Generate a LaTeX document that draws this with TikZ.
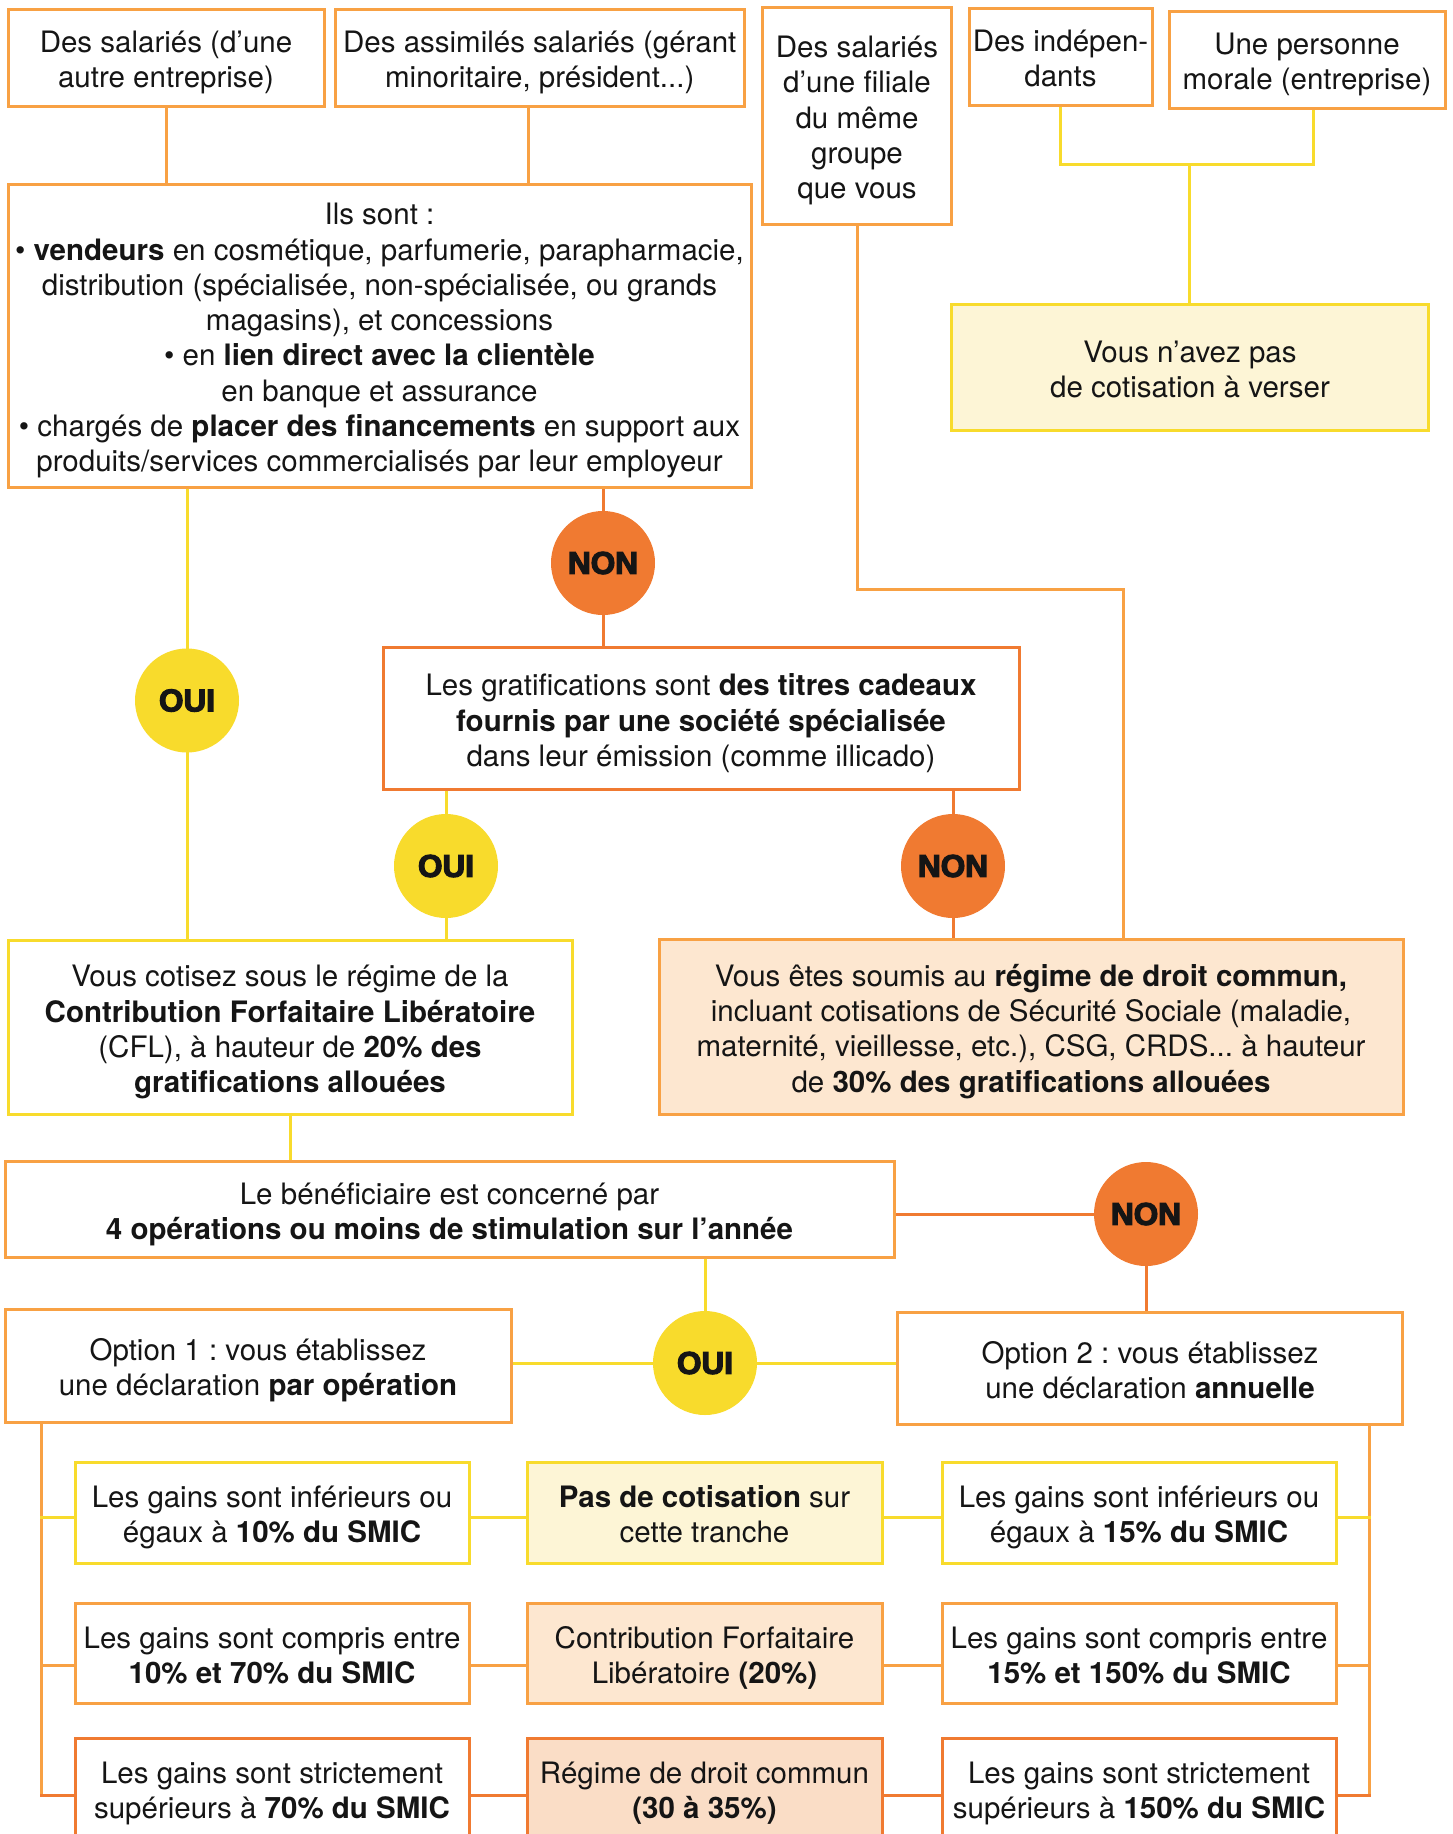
\documentclass[tikz,border=0pt]{standalone}
\usepackage{fontspec}
\setmainfont{TeX Gyre Heros}
\newfontfamily\blk[FakeBold=4]{Liberation Sans Bold}
\usetikzlibrary{backgrounds}
\definecolor{lor}{HTML}{F8A144}
\definecolor{dor}{HTML}{F07A31}
\definecolor{ylw}{HTML}{F8DB2C}
\definecolor{fy}{HTML}{FDF5D6}
\definecolor{fp}{HTML}{FDE7D0}
\definecolor{fpp}{HTML}{FADDC6}
\definecolor{txt}{HTML}{151515}
\newcommand\topstr{\rule{0pt}{32pt}}
\newcommand\botstr{\rule[-6.5pt]{0pt}{0pt}}
\frenchspacing
\tikzset{
  box/.style={draw=lor, line width=3pt, fill=white, align=center, inner sep=0pt, text=txt,
    font=\fontsize{29.5}{35.3}\selectfont},
  sz/.style 2 args={minimum width=#1pt, minimum height=#2pt},
  circ/.style={circle, minimum size=104pt, inner sep=0pt, text=txt, font=\blk\fontsize{31.5}{31.5}\selectfont},
  oui/.style={circ, fill=ylw},
  non/.style={circ, fill=dor},
  ly/.style={draw=ylw, line width=3pt, line cap=rect},
  lo/.style={draw=lor, line width=3pt, line cap=rect},
  ld/.style={draw=dor, line width=3pt, line cap=rect},
}
\begin{document}
\begin{tikzpicture}[x=1pt,y=-1pt]
\useasboundingbox (0,0) rectangle (1452,1834);
\clip (0,0) rectangle (1452,1834);

% top row
\node[box, sz={316}{97}] (b1) at (166,57.5) {\topstr Des salariés (d’une\\autre entreprise)\botstr};
\node[box, sz={408.5}{97}] (b2) at (539.75,57.5) {\topstr Des assimilés salariés (gérant\\minoritaire, président...)\botstr};
\node[box, sz={189}{217}] (fil) at (857,115.5) {\topstr Des salariés\\d’une filiale\\du même\\groupe\\que vous\botstr};
\node[box, sz={183}{97}] (ind) at (1060.5,56.5) {\topstr Des indépen-\\dants\botstr};
\node[box, sz={276}{97}] (mor) at (1307,59.5) {\topstr Une personne\\morale (entreprise)\botstr};
\node[box, draw=ylw, fill=fy, sz={476.5}{126}] (nv) at (1190,367) {\topstr Vous n’avez pas\\de cotisation à verser\botstr};

\node[box, sz={743}{303}] (ils) at (379.5,335.5) {\topstr Ils sont :\\• \textbf{vendeurs} en cosmétique, parfumerie, parapharmacie,\\distribution (spécialisée, non-spécialisée, ou grands\\magasins), et concessions\\• en \textbf{lien direct avec la clientèle}\\en banque et assurance\\• chargés de \textbf{placer des financements} en support aux\\produits/services commercialisés par leur employeur\botstr};

\node[non] (n1) at (603,563) {NON};
\node[oui] (o1) at (187,700.5) {OUI};
\node[box, draw=dor, sz={636}{141.5}] (gr) at (701,718.25) {\topstr Les gratifications sont \textbf{des titres cadeaux}\\\textbf{fournis par une société spécialisée}\\dans leur émission (comme illicado)\botstr};
\node[oui] (o2) at (446,866) {OUI};
\node[non] (n2) at (953,866) {NON};

\node[box, draw=ylw, sz={564}{174}] (cfl) at (290,1027) {\topstr Vous cotisez sous le régime de la\\\textbf{Contribution Forfaitaire Libératoire}\\(CFL), à hauteur de \textbf{20\% des}\\\textbf{gratifications allouées}\botstr};
\node[box, fill=fp, sz={744}{175}] (dc) at (1031,1026.5) {\topstr Vous êtes soumis au \textbf{régime de droit commun,}\\incluant cotisations de Sécurité Sociale (maladie,\\maternité, vieillesse, etc.), CSG, CRDS... à hauteur\\de \textbf{30\% des gratifications allouées}\botstr};

\node[box, sz={889}{96}] (bf) at (449.5,1209) {\topstr Le bénéficiaire est concerné par\\\textbf{4 opérations ou moins de stimulation sur l’année}\botstr};
\node[non] (n3) at (1146,1214) {NON};
\node[oui] (o3) at (705,1363) {OUI};
\node[box, sz={506}{113}] (op1) at (258,1365.5) {\topstr Option 1 : vous établissez\\une déclaration \textbf{par opération}\botstr};
\node[box, sz={505}{112}] (op2) at (1150,1368) {\topstr Option 2 : vous établissez\\une déclaration \textbf{annuelle}\botstr};

% rows
\node[box, draw=ylw, sz={394}{101}] (r1l) at (272,1512.5) {\topstr Les gains sont inférieurs ou\\égaux à \textbf{10\% du SMIC}\botstr};
\node[box, draw=ylw, fill=fy, sz={355}{101}] (r1m) at (704.5,1512.5) {\topstr\textbf{Pas de cotisation} sur\\cette tranche\botstr};
\node[box, draw=ylw, sz={394}{101}] (r1r) at (1139,1512.5) {\topstr Les gains sont inférieurs ou\\égaux à \textbf{15\% du SMIC}\botstr};
\node[box, sz={394}{100}] (r2l) at (272,1653) {\topstr Les gains sont compris entre\\\textbf{10\% et 70\% du SMIC}\botstr};
\node[box, fill=fp, sz={355}{100}] (r2m) at (704.5,1653) {\topstr Contribution Forfaitaire\\Libératoire \textbf{(20\%)}\botstr};
\node[box, sz={394}{100}] (r2r) at (1139,1653) {\topstr Les gains sont compris entre\\\textbf{15\% et 150\% du SMIC}\botstr};
\node[box, draw=dor, sz={394}{100}] (r3l) at (272,1788) {\topstr Les gains sont strictement\\supérieurs à \textbf{70\% du SMIC}\botstr};
\node[box, draw=dor, fill=fpp, sz={355}{100}] (r3m) at (704.5,1788) {\topstr Régime de droit commun\\\textbf{(30 à 35\%)}\botstr};
\node[box, draw=dor, sz={394}{100}] (r3r) at (1139,1788) {\topstr Les gains sont strictement\\supérieurs à \textbf{150\% du SMIC}\botstr};

\coordinate (fk) at (1123,589);
\coordinate (yj) at (1189.6,164);
\coordinate (s1) at (41,1517);
\coordinate (s2) at (41,1665);
\coordinate (s3) at (41,1795);
\coordinate (t1) at (1369,1517);
\coordinate (t2) at (1369,1665);
\coordinate (t3) at (1369,1795);

\begin{pgfonlayer}{background}
\draw[lo] (b1.south) -- (b1.south |- ils.north);
\draw[lo] ([xshift=-11.75pt]b2.south) -- ([xshift=-11.75pt]b2.south |- ils.north);
\draw[lo] (fil.south) |- (fk) -- (fk |- dc.north);
\draw[ly] (ind.south) |- (yj) -| ([xshift=6pt]mor.south);
\draw[ly] (yj) -- (yj |- nv.north);
\draw[ly] (ils.south -| o1) -- (o1) -- (o1 |- cfl.north);
\draw[ld] (ils.south -| n1) -- (n1) -- (n1 |- gr.north);
\draw[ly] (gr.south -| o2) -- (o2) -- (o2 |- cfl.north);
\draw[ld] (gr.south -| n2) -- (n2) -- (n2 |- dc.north);
\draw[ly] (cfl.south) -- (cfl.south |- bf.north);
\draw[ld] (bf.east |- n3) -- (n3) -- (n3 |- op2.north);
\draw[ly] (bf.south -| o3) -- (o3);
\draw[ly] (op1.east |- o3) -- (op2.west |- o3);
% left branch
\draw[lo] (op1.south -| s1) -- (s3);
\draw[ly] (s1) -- (r1r.west |- s1);
\draw[lo] (s2) -- (r2r.west |- s2);
\draw[ld] (s3) -- (r3r.west |- s3);
% right branch
\draw[lo] (op2.south -| t1) -- (t3);
\draw[ly] (r1m.east |- t1) -- (t1);
\draw[lo] (r2m.east |- t2) -- (t2);
\draw[ld] (r3m.east |- t3) -- (t3);
\end{pgfonlayer}
\end{tikzpicture}
\end{document}
